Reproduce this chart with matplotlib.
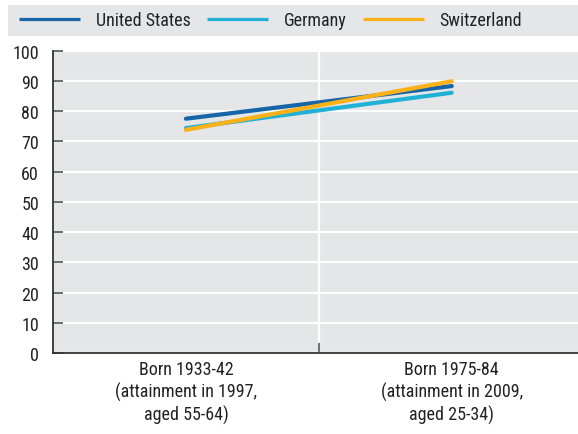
import matplotlib
matplotlib.use("Agg")
import matplotlib.pyplot as plt
from matplotlib import font_manager
from matplotlib.patches import Rectangle

# Cohort labels and shares (%)
cohorts = ["Born 1933-42\n(attainment in 1997,\naged 55-64)",
           "Born 1975-84\n(attainment in 2009,\naged 25-34)"]
united_states = [77.5, 88.3]
germany = [74.4, 86.1]
switzerland = [73.8, 89.9]

series = [("United States", united_states, "#1565a8"),
          ("Germany", germany, "#22b1d6"),
          ("Switzerland", switzerland, "#fbb117")]

# condensed face if there is one, else plain Liberation Sans a bit smaller
names = {f.name for f in font_manager.fontManager.ttflist}
fam, fs = "Liberation Sans", 11.4
for cand in ["Roboto Condensed", "Liberation Sans Narrow", "DejaVu Sans Condensed"]:
    if cand in names:
        fam, fs = cand, 13
        break
plt.rcParams["font.family"] = [fam, "DejaVu Sans"]
plt.rcParams["font.size"] = fs
px = fs * 100 / 72  # font size in pixels

bg = "#e5e6e8"
fig = plt.figure(figsize=(5.78, 4.35), dpi=100)
ax = fig.add_axes([53 / 578, 81 / 435, 525 / 578, 302.3 / 435])
ax.set_facecolor(bg)

x = list(range(len(cohorts)))
for name, vals, col in series:
    ax.plot(x, vals, color=col, lw=3, solid_capstyle="round", label=name, zorder=3)

ax.set_xlim(-0.5, 1.475)
ax.set_ylim(0, 100)
ax.set_yticks(range(0, 101, 10))
ax.set_xticks(x)
ax.set_xticklabels(cohorts, color="#222222", linespacing=1.25)
ax.set_xticks([0.5], minor=True)
ax.tick_params(axis="x", which="major", length=0, pad=5)
ax.tick_params(axis="x", which="minor", direction="in", length=7, color="#555555", width=1.2)
ax.tick_params(axis="y", direction="in", length=7, color="#555555", width=1.2,
               pad=10, labelcolor="#222222")
ax.grid(axis="y", color="white", lw=1.6)
ax.grid(axis="x", which="minor", color="white", lw=1.6)
ax.set_axisbelow(True)
for s in ["top", "right"]:
    ax.spines[s].set_visible(False)
for s in ["left", "bottom"]:
    ax.spines[s].set_color("#333333")
    ax.spines[s].set_linewidth(1.3)

# legend band
fig.patches.append(Rectangle((8 / 578, 398.3 / 435), 570 / 578, 30.7 / 435,
                             transform=fig.transFigure, facecolor=bg,
                             edgecolor="none", zorder=0))
handles, labels = ax.get_legend_handles_labels()
leg = fig.legend(handles, labels, ncol=3, loc="center left",
                 bbox_to_anchor=(19 / 578, 413.6 / 435), frameon=False,
                 handlelength=61 / px, handletextpad=16 / px, columnspacing=16 / px,
                 borderaxespad=0, borderpad=0)
for t in leg.get_texts():
    t.set_color("#222222")
for h in leg.legend_handles:
    h.set_linewidth(2.3)
    h.set_solid_capstyle("butt")

fig.savefig("out.png", dpi=100)
